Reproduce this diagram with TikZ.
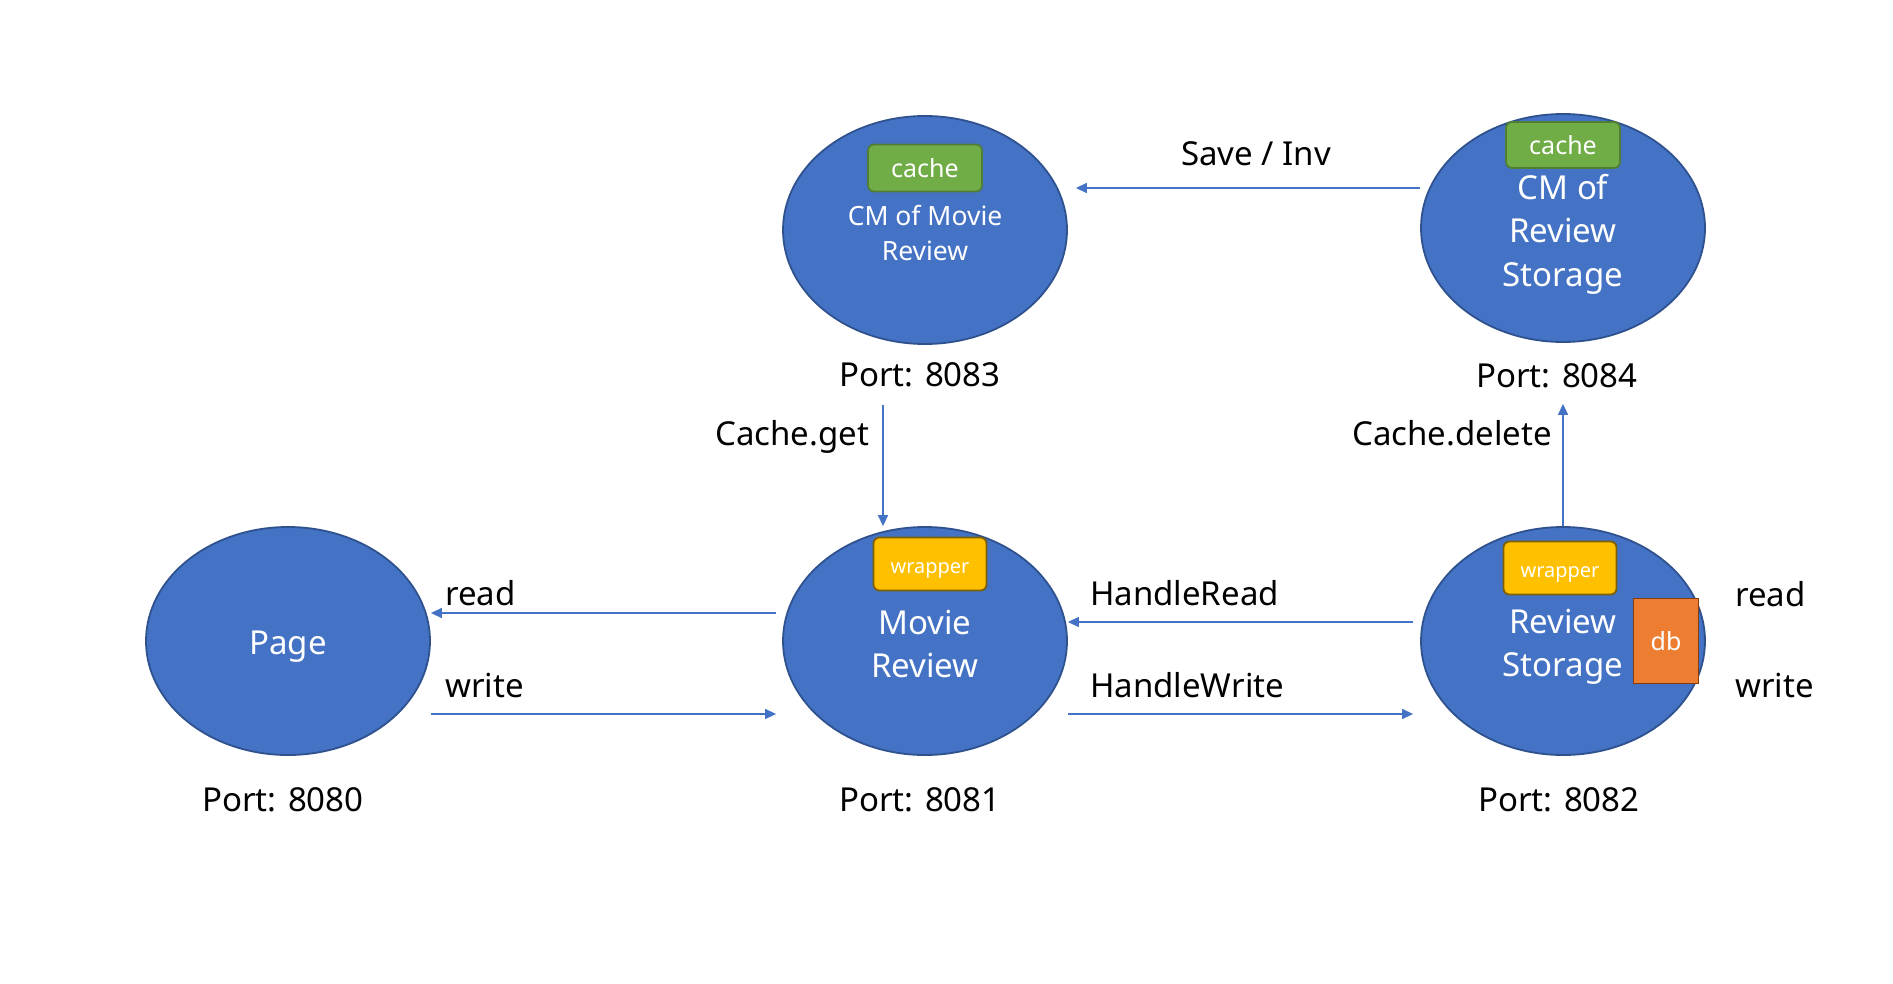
\documentclass[tikz,border=0pt]{standalone}
\usepackage{fontspec}
\setmainfont{Noto Sans}
\usetikzlibrary{arrows.meta,shapes.geometric,calc}
\definecolor{nodeblue}{HTML}{4472C4}
\definecolor{nodeedge}{HTML}{2F528F}
\definecolor{cachegreen}{HTML}{70AD47}
\definecolor{cacheedge}{HTML}{507E32}
\definecolor{wrapyellow}{HTML}{FFC000}
\definecolor{wrapedge}{HTML}{7F6000}
\definecolor{dborange}{HTML}{ED7D31}
\definecolor{dbedge}{HTML}{843C0C}
\tikzset{
  svc/.style={ellipse, fill=nodeblue, draw=nodeedge, line width=1.8pt,
    minimum width=284pt, minimum height=228pt, inner sep=0pt},
  svctext/.style={inner sep=0pt, text=white, align=center,
    font=\fontsize{33}{43.5}\selectfont},
  svcsmalltext/.style={svctext, font=\fontsize{26.5}{35}\selectfont},
  cachebox/.style={rectangle, rounded corners=6pt, fill=cachegreen, draw=cacheedge,
    line width=1.8pt, minimum width=114pt, minimum height=47pt, inner sep=0pt,
    text=white, font=\fontsize{25}{30}\selectfont},
  wrapbox/.style={rectangle, rounded corners=6pt, fill=wrapyellow, draw=wrapedge,
    line width=1.8pt, minimum width=113pt, minimum height=53pt, inner sep=0pt,
    text=white, font=\fontsize{20}{24}\selectfont, text height=24pt, text depth=5pt},
  dbbox/.style={rectangle, fill=dborange, draw=dbedge, line width=1.8pt,
    minimum width=65pt, minimum height=85pt, inner sep=0pt,
    text=white, font=\fontsize{25}{30}\selectfont},
  lbl/.style={inner sep=0pt, text=black, font=\fontsize{33}{38}\selectfont},
  arr/.style={draw=nodeblue, line width=1.4pt, -{Triangle[length=11pt,width=10pt]}}
}
\begin{document}
\begin{tikzpicture}[x=1pt,y=-1pt]
\useasboundingbox[fill=white] (0,0) rectangle (1893,983);

% services
\node[svc] (page) at (288,641) {};
\node[svc] (mr) at (925,641) {};
\node[svc] (rs) at (1563,641) {};
\node[svc] (cmm) at (925,230) {};
\node[svc] (cmr) at (1563,228) {};

\node[svctext] (paget) at ($(page.center)+(0,6)$) {Page};
\node[svctext] (mrt) at ($(mr.center)+(0,3)$) {Movie\\Review};
\node[svctext] (rst) at ($(rs.center)+(0,6)$) {Review\\Storage};
\node[svcsmalltext] (cmmt) at ($(cmm.center)+(0,3)$) {CM of Movie\\Review};
\node[svctext] (cmrt) at ($(cmr.center)+(0,6)$) {CM of\\Review\\Storage};

% inner boxes
\node[wrapbox] (wmr) at (930,564) {wrapper};
\node[wrapbox, text height=23pt] (wrs) at (1560,568) {wrapper};
\node[cachebox] (cm1) at (925,168) {cache};
\node[cachebox, minimum height=46pt] (cm2) at (1563,145) {cache};
\node[dbbox] (db) at (1666,641) {db};

% ports
\node[lbl, anchor=base] (p80) at (283,811) {Port: 8080};
\node[lbl, anchor=base] (p81) at (920,811) {Port: 8081};
\node[lbl, anchor=base] (p82) at (1559,811) {Port: 8082};
\node[lbl, anchor=base] (p83) at (920,386) {Port: 8083};
\node[lbl, anchor=base] (p84) at (1557,387) {Port: 8084};

% arrows
\draw[arr] ($(mr.west)+(-6,-28)$) -- ($(page.east)+(0,-28)$);
\draw[arr] ($(page.east)+(0,73)$) -- ($(mr.west)+(-6,73)$);
\draw[arr] ($(rs.west)+(-7,-19)$) -- ($(mr.east)+(0,-19)$);
\draw[arr] ($(mr.east)+(0,73)$) -- ($(rs.west)+(-7,73)$);
\draw[arr] ($(cmr.west)+(0,-40)$) -- ($(cmm.east)+(8,-42)$);
\draw[arr] ($(cmm.south)+(-42,60)$) -- ($(mr.north)+(-42,0)$);
\draw[arr] (rs.north) -- ($(cmr.south)+(0,61)$);

% labels
\node[lbl, anchor=base] (lsave) at (1256,165) {Save / Inv};
\node[lbl, anchor=base west] (lget) at (715,445) {Cache.get};
\node[lbl, anchor=base west] (ldel) at (1352,445) {Cache.delete};
\node[lbl, anchor=base west] (lread) at (445,605) {read};
\node[lbl, anchor=base west] (lwrite) at (445,697) {write};
\node[lbl, anchor=base west] (lhr) at (1090,605) {HandleRead};
\node[lbl, anchor=base west] (lhw) at (1090,697) {HandleWrite};
\node[lbl, anchor=base west] (lread2) at (1735,606) {read};
\node[lbl, anchor=base west] (lwrite2) at (1735,697) {write};
\end{tikzpicture}
\end{document}
